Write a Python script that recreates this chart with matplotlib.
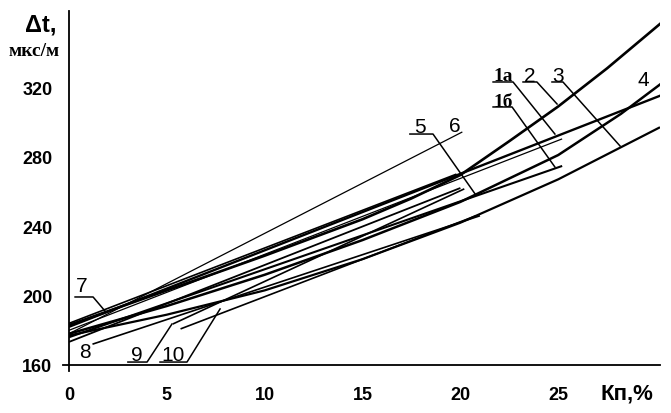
import matplotlib
matplotlib.use('Agg')
import matplotlib.pyplot as plt

# ---------------- data ----------------
x_ticks = [0, 5, 10, 15, 20, 25]
y_ticks = [160, 200, 240, 280, 320]

c2_x = [0, 5, 10, 15, 17.5, 20, 22.5, 25, 27.5, 30.3]
c2_y = [183, 203, 223, 244, 256, 269.5, 289, 309, 331, 357.5]

l1a_x = [0, 30.3]
l1a_y = [182, 315.6]

l1a_thin_x = [0, 25.2]
l1a_thin_y = [180, 290.3]

c4_x = [0, 5, 10, 15, 20, 25, 28.2, 30.3]
c4_y = [178, 194, 212, 232, 254, 281, 304.7, 322.5]

c3_x = [0, 5, 10, 15, 20, 25, 30.2]
c3_y = [177, 189, 203, 221, 242, 267, 297]

l6_x = [0, 20.1]
l6_y = [178, 294.3]

l1b_x = [0, 25.2]
l1b_y = [176, 274.7]

l7_x = [0, 19.8]
l7_y = [184, 270]

l8_x = [1.2, 21]
l8_y = [172, 246]

l9_x = [5.3, 20.2]
l9_y = [183.6, 261.5]

l10_x = [5.7, 20.8]
l10_y = [180.8, 246]

l11_x = [0, 20]
l11_y = [173.3, 262]

# ---------------- figure ----------------
fig = plt.figure(figsize=(6.71, 4.14), dpi=100)
ax = fig.add_axes([69/671, 48/414, 591/671, 354/414])
ax.set_xlim(0, 30.2)
ax.set_ylim(160, 364)
for s in ax.spines.values():
    s.set_visible(False)

K = 'black'
series = [
    (c2_x, c2_y, 1.9), (l1a_x, l1a_y, 1.7), (l1a_thin_x, l1a_thin_y, 0.9),
    (c4_x, c4_y, 1.8), (c3_x, c3_y, 1.6), (l6_x, l6_y, 0.9),
    (l1b_x, l1b_y, 1.5), (l7_x, l7_y, 1.2), (l8_x, l8_y, 1.2),
    (l9_x, l9_y, 1.2), (l10_x, l10_y, 1.2), (l11_x, l11_y, 1.3),
]
for xs, ys, lw in series:
    ax.plot(xs, ys, color=K, lw=lw, solid_capstyle='butt', solid_joinstyle='round')

# axis lines
ax.plot([-0.3, 30.2], [160, 160], color=K, lw=1.3, clip_on=False)
ax.plot([0, 0], [156.5, 364], color=K, lw=1.3, clip_on=False)

ax.set_xticks(x_ticks)
ax.set_yticks(y_ticks)
ax.set_xticklabels([str(v) for v in x_ticks], fontsize=13, fontweight='bold',
                   family='Liberation Sans')
ax.set_yticklabels([str(v) for v in y_ticks], fontsize=13, fontweight='bold',
                   family='Liberation Sans')
ax.tick_params(axis='x', length=0, pad=15)
ax.tick_params(axis='y', length=0, pad=12)

# axis titles
fig.text(41/671, 1 - 25/414, 'Δt,', fontsize=17, fontweight='bold',
         family='Liberation Sans', ha='center', va='center')
fig.text(34/671, 1 - 52/414, 'мкс/м', fontsize=14, fontweight='bold',
         family='Liberation Serif', ha='center', va='center')
fig.text(627/671, 1 - 394/414, 'Кп,%', fontsize=16, fontweight='bold',
         family='Liberation Sans', ha='center', va='center')

# curve labels with leaders
def lab(txt, tx, ty, pts=None, serif=False, size=15):
    if serif:
        ax.text(tx, ty, txt, fontsize=14, fontweight='bold', family='Liberation Serif',
                ha='center', va='center')
    else:
        ax.text(tx, ty, txt, fontsize=size, family='Liberation Sans',
                ha='center', va='center')
    if pts:
        ax.plot([p[0] for p in pts], [p[1] for p in pts], color=K, lw=1.1, clip_on=False)

lab('7', 0.66, 206.1, [(0.31, 199.2), (1.23, 199.2), (1.84, 191.1)])
lab('8', 0.82, 167.5)
lab('9', 3.47, 166.3, [(3.01, 161.7), (3.99, 161.7), (5.26, 183.6)])
lab('10', 5.31, 166.3, [(4.65, 161.7), (6.03, 161.7), (7.72, 192.3)])
lab('5', 17.94, 297.7, [(17.42, 293.1), (18.6, 293.1), (20.75, 258.6)])
lab('6', 19.72, 298.3)
lab('1а', 22.18, 326.6, [(21.67, 323.1), (22.69, 323.1), (24.83, 293.1)], serif=True)
lab('2', 23.56, 326.6, [(23.2, 323.1), (23.91, 323.1), (24.94, 310.4)])
lab('3', 24.99, 327.1, [(24.68, 323.1), (25.24, 323.1), (28.16, 286.2)])
lab('4', 29.33, 324.8)
lab('1б', 22.18, 311.6, [(21.67, 308.7), (22.64, 308.7), (24.83, 274.1)], serif=True)

fig.savefig('out.png', dpi=100)
